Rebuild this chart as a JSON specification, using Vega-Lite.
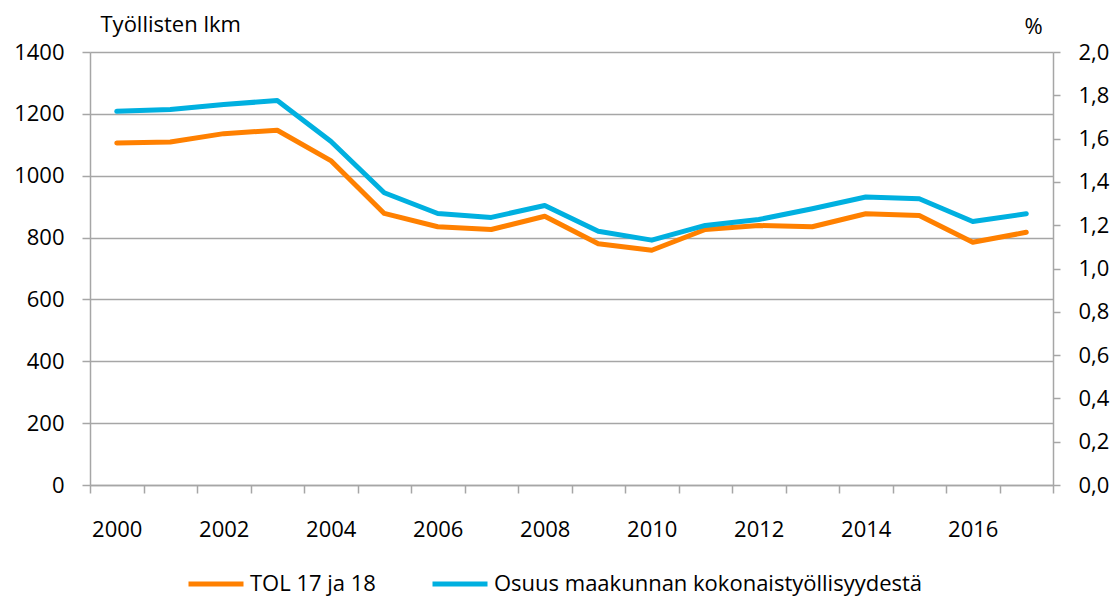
{
  "$schema": "https://vega.github.io/schema/vega-lite/v6.json",
  "width": 963,
  "height": 433,
  "autosize": {"type": "none"},
  "padding": {"left": 90, "top": 52, "right": 62, "bottom": 112},
  "background": "white",
  "config": {
    "font": "Open Sans",
    "view": {"stroke": null},
    "axis": {
      "labelFont": "Open Sans",
      "labelFontSize": 22,
      "labelColor": "#000000",
      "titleFont": "Open Sans",
      "titleFontSize": 22,
      "titleFontWeight": "normal",
      "titleColor": "#000000",
      "domainColor": "#a6a6a6",
      "domainWidth": 1.5,
      "tickColor": "#a6a6a6",
      "tickWidth": 1.5,
      "gridColor": "#a6a6a6",
      "gridWidth": 1.5
    },
    "legend": {"labelFont": "Open Sans", "labelFontSize": 22, "labelColor": "#000000", "labelLimit": 800}
  },
  "data": {
    "values": [
      {"year": 2000, "tol": 1106, "osuus": 1.726},
      {"year": 2001, "tol": 1109, "osuus": 1.734},
      {"year": 2002, "tol": 1136, "osuus": 1.757},
      {"year": 2003, "tol": 1147, "osuus": 1.776},
      {"year": 2004, "tol": 1049, "osuus": 1.588},
      {"year": 2005, "tol": 878, "osuus": 1.350},
      {"year": 2006, "tol": 835, "osuus": 1.254},
      {"year": 2007, "tol": 826, "osuus": 1.236},
      {"year": 2008, "tol": 869, "osuus": 1.291},
      {"year": 2009, "tol": 780, "osuus": 1.172},
      {"year": 2010, "tol": 759, "osuus": 1.131},
      {"year": 2011, "tol": 826, "osuus": 1.199},
      {"year": 2012, "tol": 839, "osuus": 1.226},
      {"year": 2013, "tol": 835, "osuus": 1.276},
      {"year": 2014, "tol": 877, "osuus": 1.330},
      {"year": 2015, "tol": 871, "osuus": 1.322},
      {"year": 2016, "tol": 785, "osuus": 1.217},
      {"year": 2017, "tol": 817, "osuus": 1.253}
    ]
  },
  "encoding": {
    "x": {
      "field": "year",
      "type": "quantitative",
      "scale": {"domain": [1999.5, 2017.5], "nice": false, "zero": false},
      "axis": {
        "title": null,
        "grid": false,
        "values": [1999.5, 2000.5, 2001.5, 2002.5, 2003.5, 2004.5, 2005.5, 2006.5, 2007.5, 2008.5, 2009.5, 2010.5, 2011.5, 2012.5, 2013.5, 2014.5, 2015.5, 2016.5, 2017.5],
        "labelExpr": "((datum.value - 1999.5) % 2 == 0 && datum.value < 2017) ? '' + (datum.value + 0.5) : ''",
        "labelOffset": 26.75,
        "labelOverlap": false,
        "labelBound": false,
        "labelFlush": false,
        "tickSize": 8,
        "labelPadding": 26
      }
    }
  },
  "layer": [
    {
      "mark": {"type": "line", "strokeWidth": 5, "strokeCap": "round", "strokeJoin": "round"},
      "encoding": {
        "y": {
          "field": "tol",
          "type": "quantitative",
          "scale": {"domain": [0, 1400], "nice": false},
          "axis": {
            "orient": "left",
            "values": [0, 200, 400, 600, 800, 1000, 1200, 1400],
            "format": "d",
            "grid": true,
            "tickSize": 8,
            "labelPadding": 18,
            "title": "Työllisten lkm",
            "titleAngle": 0,
            "titleAlign": "left",
            "titleBaseline": "alphabetic",
            "titleX": 10,
            "titleY": -21
          }
        },
        "color": {
          "datum": "TOL 17 ja 18",
          "type": "nominal",
          "scale": {"domain": ["TOL 17 ja 18", "Osuus maakunnan kokonaistyöllisyydestä"], "range": ["#FF8000", "#00B0E0"]},
          "legend": {
            "orient": "none",
            "legendX": 96,
            "legendY": 502,
            "direction": "horizontal",
            "title": null,
            "symbolType": "stroke",
            "symbolSize": 3025,
            "symbolStrokeWidth": 5,
            "labelOffset": 4,
            "labelLimit": 800,
            "columnPadding": 46,
            "padding": 0
          }
        }
      }
    },
    {
      "mark": {"type": "line", "strokeWidth": 5, "strokeCap": "round", "strokeJoin": "round"},
      "encoding": {
        "y": {
          "field": "osuus",
          "type": "quantitative",
          "scale": {"domain": [0, 2], "nice": false},
          "axis": {
            "orient": "right",
            "values": [0, 0.2, 0.4, 0.6, 0.8, 1.0, 1.2, 1.4, 1.6, 1.8, 2.0],
            "labelExpr": "replace(format(datum.value, '.1f'), '.', ',')",
            "grid": false,
            "tickSize": 7,
            "labelPadding": 18,
            "title": "%",
            "titleAngle": 0,
            "titleAlign": "center",
            "titleBaseline": "alphabetic",
            "titleX": -20,
            "titleY": -19
          }
        },
        "color": {"datum": "Osuus maakunnan kokonaistyöllisyydestä", "type": "nominal"}
      }
    }
  ],
  "resolve": {"scale": {"y": "independent"}}
}
